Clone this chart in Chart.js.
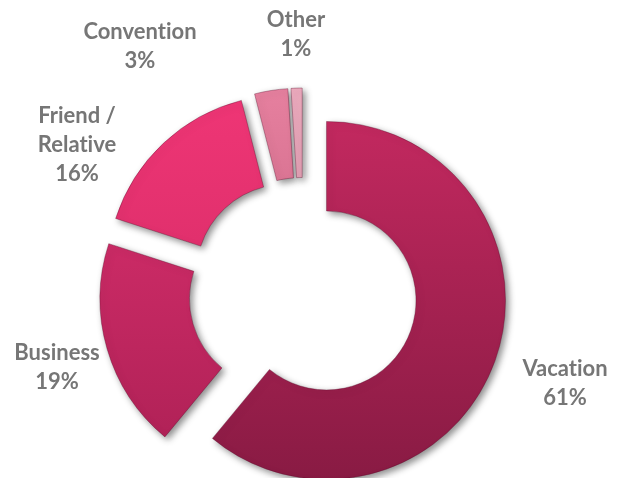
<!DOCTYPE html>
<html>
<head>
<meta charset="utf-8">
<title>Purpose of visit</title>
<script src="https://cdn.jsdelivr.net/npm/chart.js@4.4.1/dist/chart.umd.min.js"></script>
<style>
  html, body { margin: 0; padding: 0; background: #fff; }
  canvas { display: block; }
</style>
</head>
<body>
<canvas id="visitChart" width="629" height="478"></canvas>
<script>
// Purpose of visit, share of visitors (%)
const categories = [["Vacation"], ["Business"], ["Friend /", "Relative"], ["Convention"], ["Other"]]
const shares = [61, 19, 16, 3, 1]

// each slice is shaded top -> bottom
const topColors = ["#c82a62", "#e03271", "#f03676", "#e6809f", "#ecaabd"]
const bottomColors = ["#861a42", "#a91f53", "#c8265e", "#b5506f", "#bd7a90"]

// centre of the first text line of each label
const labelSpots = [[565, 369], [57, 353], [77, 116], [140, 32], [296, 20]]

const EXPLODE = 25      // px every slice is pulled out from the centre
const LINE_H = 29

// pull every arc out along its own middle angle
const explodePlugin = {
  id: "explode",
  afterDatasetUpdate(chart, args) {
    const meta = chart.getDatasetMeta(args.index)
    meta.data.forEach(arc => {
      const mid = (arc.startAngle + arc.endAngle) / 2
      arc.x += Math.cos(mid) * EXPLODE
      arc.y += Math.sin(mid) * EXPLODE
    })
  }
}

const shadowPlugin = {
  id: "softShadow",
  beforeDatasetsDraw(chart) {
    const ctx = chart.ctx
    ctx.save()
    ctx.shadowColor = "rgba(0, 0, 0, 0.45)"
    ctx.shadowBlur = 7
    ctx.shadowOffsetX = 3
    ctx.shadowOffsetY = 3
  },
  afterDatasetsDraw(chart) {
    chart.ctx.restore()
  }
}

const labelPlugin = {
  id: "sliceLabels",
  afterDraw(chart) {
    const ctx = chart.ctx
    ctx.save()
    ctx.font = "bold 22px Lato"
    ctx.textRendering = "optimizeSpeed"   // no "ti" ligature
    ctx.fillStyle = "#767676"
    ctx.textAlign = "center"
    ctx.textBaseline = "middle"
    categories.forEach((lines, i) => {
      const [x, y] = labelSpots[i]
      const all = lines.concat([shares[i] + "%"])
      all.forEach((t, j) => ctx.fillText(t, x, y + j * LINE_H))
    })
    ctx.restore()
  }
}

function sliceGradient(context) {
  const chart = context.chart
  const area = chart.chartArea
  if (!area) return topColors[context.dataIndex]
  const cy = (area.top + area.bottom) / 2
  const g = chart.ctx.createLinearGradient(0, cy - 205, 0, cy + 205)
  g.addColorStop(0, topColors[context.dataIndex])
  g.addColorStop(1, bottomColors[context.dataIndex])
  return g
}

new Chart(document.getElementById("visitChart"), {
  type: "doughnut",
  data: {
    labels: categories,
    datasets: [{
      data: shares,
      backgroundColor: sliceGradient,
      borderColor: "rgba(90, 10, 40, 0.35)",
      borderWidth: 1,
      clip: false
    }]
  },
  options: {
    responsive: false,
    animation: false,
    radius: 179,
    cutout: "50%",
    layout: { padding: { left: 0, right: 23, top: 106, bottom: 0 } },
    plugins: {
      legend: { display: false },
      tooltip: { enabled: false }
    },
    events: []
  },
  plugins: [explodePlugin, shadowPlugin, labelPlugin]
})
</script>
</body>
</html>
